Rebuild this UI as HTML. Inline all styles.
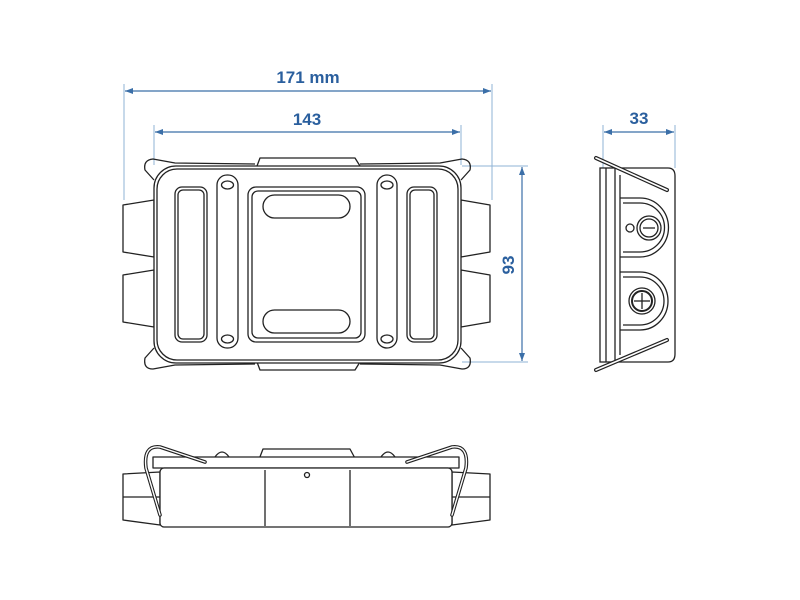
<!DOCTYPE html>
<html><head><meta charset="utf-8"><style>
html,body{margin:0;padding:0;background:#fff;width:800px;height:600px;overflow:hidden}
</style></head><body>
<svg width="800" height="600" viewBox="0 0 800 600" xmlns="http://www.w3.org/2000/svg">
<defs>
<marker id="a" markerWidth="8" markerHeight="6" refX="8" refY="3" orient="auto-start-reverse" markerUnits="userSpaceOnUse"><path d="M0,0 L8,3 L0,6 z" fill="#3b6fa8"/></marker>
</defs>
<g stroke="#8fb3d6" stroke-width="1" fill="none">
<line x1="124" y1="84" x2="124" y2="200"/>
<line x1="492" y1="84" x2="492" y2="200"/>
<line x1="154" y1="125" x2="154" y2="165"/>
<line x1="461" y1="125" x2="461" y2="165"/>
<line x1="462" y1="166" x2="528" y2="166"/>
<line x1="462" y1="362" x2="528" y2="362"/>
<line x1="603" y1="125" x2="603" y2="168"/>
<line x1="675" y1="125" x2="675" y2="168"/>
</g>
<g stroke="#3b6fa8" stroke-width="1.2" fill="none">
<line x1="125" y1="91" x2="491" y2="91" marker-start="url(#a)" marker-end="url(#a)"/>
<line x1="155" y1="132" x2="460" y2="132" marker-start="url(#a)" marker-end="url(#a)"/>
<line x1="522" y1="167" x2="522" y2="361" marker-start="url(#a)" marker-end="url(#a)"/>
<line x1="604" y1="132" x2="674" y2="132" marker-start="url(#a)" marker-end="url(#a)"/>
</g>
<g fill="#2a5f9e" font-family="Liberation Sans, sans-serif" font-weight="bold" font-size="17" text-anchor="middle">
<text x="308" y="83">171 mm</text>
<text x="307" y="125">143</text>
<text x="639" y="124">33</text>
<text transform="translate(514,265) rotate(-90)">93</text>
</g>

<!-- front view -->
<g stroke="#222" stroke-width="1.3" fill="none" stroke-linejoin="round">
<path d="M154,200 L123,205 L123,252 L154,257 Z"/>
<path d="M154,270 L123,275 L123,322 L154,327 Z"/>
<path d="M461,200 L490,205 L490,252 L461,257 Z"/>
<path d="M461,270 L490,275 L490,322 L461,327 Z"/>
<path d="M257,166 L260,158 L355,158 L360,166"/>
<path d="M257,362 L260,370 L355,370 L360,362"/>
<rect x="154" y="166" width="307" height="197" rx="22" fill="#fff"/>
<rect x="157" y="169" width="301" height="191" rx="20"/>
<path d="M154,180 L145,170 Q143,160 153,159 L175,163 L255,164"/>
<path d="M461,180 L470,170 Q472,160 462,159 L440,163 L360,164"/>
<path d="M154,348 L145,358 Q143,369 153,369 L175,365 L255,364"/>
<path d="M461,348 L470,358 Q472,369 462,369 L440,365 L360,364"/>
<rect x="175" y="187" width="32" height="155" rx="7"/>
<rect x="178" y="190" width="26" height="149" rx="5"/>
<rect x="407" y="187" width="30" height="155" rx="7"/>
<rect x="410" y="190" width="24" height="149" rx="5"/>
<rect x="217" y="175" width="21" height="173" rx="10"/>
<rect x="377" y="175" width="20" height="173" rx="10"/>
<ellipse cx="227.5" cy="185" rx="6" ry="4"/>
<ellipse cx="227.5" cy="339" rx="6" ry="4"/>
<ellipse cx="387" cy="185" rx="6" ry="4"/>
<ellipse cx="387" cy="339" rx="6" ry="4"/>
<rect x="248" y="187" width="117" height="155" rx="8"/>
<rect x="252" y="191" width="109" height="147" rx="6"/>
<rect x="263" y="195" width="87" height="23" rx="11.5"/>
<rect x="263" y="310" width="87" height="23" rx="11.5"/>
</g>

<!-- side view -->
<g stroke="#222" stroke-width="1.3" fill="none">
<rect x="600" y="168" width="15" height="194" fill="#fff"/>
<line x1="606" y1="168" x2="606" y2="362"/>
<path d="M615,168 L668,168 Q675,168 675,176 L675,354 Q675,362 668,362 L615,362"/>
<line x1="620" y1="175" x2="620" y2="355"/>
<path d="M620,198 L640,198 A28,29 0 0 1 640,257 L620,257"/>
<path d="M623,203 L640,203 A24,24 0 0 1 640,252 L623,252"/>
<path d="M620,272 L640,272 A28,29 0 0 1 640,330 L620,330"/>
<path d="M623,277 L640,277 A24,24 0 0 1 640,325 L623,325"/>
<circle cx="649" cy="228" r="12"/><circle cx="649" cy="228" r="9"/>
<line x1="643" y1="228" x2="655" y2="228"/>
<circle cx="630" cy="228" r="4"/>
<circle cx="642" cy="301" r="13"/><circle cx="642" cy="301" r="10" stroke-width="2"/>
<line x1="642" y1="293" x2="642" y2="309"/><line x1="634" y1="301" x2="650" y2="301"/>
<line x1="596" y1="158" x2="667" y2="190" stroke-width="4" stroke-linecap="round"/>
<line x1="596" y1="158" x2="667" y2="190" stroke-width="1.6" stroke="#fff" stroke-linecap="round"/>
<line x1="596" y1="370" x2="667" y2="340" stroke-width="4" stroke-linecap="round"/>
<line x1="596" y1="370" x2="667" y2="340" stroke-width="1.6" stroke="#fff" stroke-linecap="round"/>
</g>

<!-- bottom view -->
<g stroke="#222" stroke-width="1.3" fill="none" stroke-linejoin="round">
<path d="M160,472 L123,474 L123,520 L160,525 Z"/>
<line x1="123" y1="497" x2="160" y2="497"/>
<path d="M452,472 L490,474 L490,520 L452,525 Z"/>
<line x1="452" y1="497" x2="490" y2="497"/>
<path d="M258,462 L263,449 L350,449 L357,462"/>
<path d="M215,457 Q222,447 229,457"/>
<path d="M381,457 Q388,447 395,457"/>
<rect x="153" y="457" width="306" height="11" fill="#fff"/>
<rect x="160" y="468" width="292" height="59" rx="4" fill="#fff"/>
<line x1="265" y1="470" x2="265" y2="526"/>
<line x1="350" y1="470" x2="350" y2="526"/>
<circle cx="307" cy="475" r="2.5"/>
<path d="M160,515 L146,468 Q143,445 160,447 L205,462" stroke-width="3.6" stroke-linecap="round"/>
<path d="M160,515 L146,468 Q143,445 160,447 L205,462" stroke-width="1.4" stroke="#fff" stroke-linecap="round"/>
<path d="M452,515 L466,468 Q469,445 452,447 L407,462" stroke-width="3.6" stroke-linecap="round"/>
<path d="M452,515 L466,468 Q469,445 452,447 L407,462" stroke-width="1.4" stroke="#fff" stroke-linecap="round"/>
</g>
</svg>
</body></html>
